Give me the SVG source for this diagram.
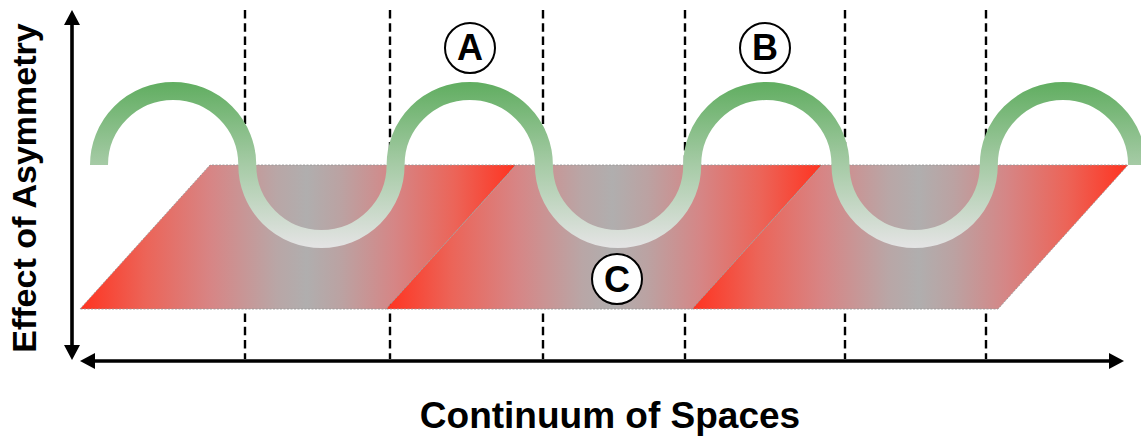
<svg xmlns="http://www.w3.org/2000/svg" width="1141" height="437" viewBox="0 0 1141 437">
  <style>
    .grid { stroke: #000; stroke-width: 2.4; stroke-dasharray: 8.5 4.7; fill: none; }
    .plane { fill: url(#planeGrad); stroke: #999; stroke-width: 0.9; stroke-dasharray: 2 1.5; }
    .axis { stroke: #000; stroke-width: 3.6; fill: none; marker-start: url(#arrow); marker-end: url(#arrow); }
    .badge circle { fill: #fff; stroke: #000; stroke-width: 2; }
    .badge text { font-family: "Liberation Sans", Arial, sans-serif; font-weight: bold; font-size: 36px; text-anchor: middle; fill: #000; }
    .title { font-family: "Liberation Sans", Arial, sans-serif; font-weight: bold; fill: #000; text-anchor: middle; }
  </style>
  <defs>
    <linearGradient id="planeGrad" x1="0" y1="0" x2="1" y2="0">
      <stop offset="0" stop-color="#ff3320"/>
      <stop offset="0.15" stop-color="#ec6458"/>
      <stop offset="0.3" stop-color="#d78585"/>
      <stop offset="0.45" stop-color="#b9a6a6"/>
      <stop offset="0.52" stop-color="#b0aeae"/>
      <stop offset="0.6" stop-color="#bba2a2"/>
      <stop offset="0.72" stop-color="#d58686"/>
      <stop offset="0.86" stop-color="#ec6458"/>
      <stop offset="1" stop-color="#ff3320"/>
    </linearGradient>
    <linearGradient id="waveGrad" gradientUnits="userSpaceOnUse" x1="0" y1="84" x2="0" y2="246">
      <stop offset="0" stop-color="#62ae62"/>
      <stop offset="0.5" stop-color="#a6cba6"/>
      <stop offset="1" stop-color="#e3e3e3"/>
    </linearGradient>
    <marker id="arrow" viewBox="0 0 15 16" refX="9" refY="8" markerWidth="15" markerHeight="16" markerUnits="userSpaceOnUse" orient="auto-start-reverse">
      <path d="M0,0 L15,8 L0,16 z" fill="#000"/>
    </marker>
  </defs>

  <g id="gridlines">
    <line class="grid" x1="245" y1="10" x2="245" y2="359"/>
    <line class="grid" x1="390" y1="10" x2="390" y2="359"/>
    <line class="grid" x1="543" y1="10" x2="543" y2="359"/>
    <line class="grid" x1="685" y1="10" x2="685" y2="359"/>
    <line class="grid" x1="845" y1="10" x2="845" y2="359"/>
    <line class="grid" x1="986" y1="10" x2="986" y2="359"/>
  </g>

  <g id="plane">
    <polygon class="plane" points="80,309 210,165 516,165 386,309"/>
    <polygon class="plane" points="386,309 516,165 822,165 692,309"/>
    <polygon class="plane" points="692,309 822,165 1128,165 998,309"/>
  </g>

  <g id="wave">
    <path d="M99,165 A74.15,74 0 0 1 247.3,165 A74.15,74 0 0 0 395.6,165 A74.15,74 0 0 1 543.9,165 A74.15,74 0 0 0 692.2,165 A74.15,74 0 0 1 840.5,165 A74.15,74 0 0 0 988.8,165 A74.15,74 0 0 1 1137.1,165" fill="none" stroke="url(#waveGrad)" stroke-width="18"/>
  </g>

  <g id="connectors">
    <line class="axis" x1="72" y1="354" x2="72" y2="16"/>
    <line class="axis" x1="86" y1="361" x2="1118" y2="361"/>
  </g>

  <g id="label-A" class="badge">
    <circle cx="470" cy="48" r="25"/>
    <text x="470" y="60">A</text>
  </g>
  <g id="label-B" class="badge">
    <circle cx="765" cy="48" r="25"/>
    <text x="765" y="60">B</text>
  </g>
  <g id="label-C" class="badge">
    <circle cx="617" cy="279" r="25"/>
    <text x="617" y="292">C</text>
  </g>

  <g id="axis-titles">
    <text class="title" transform="translate(36,188) rotate(-90)" x="0" y="0" font-size="34">Effect of Asymmetry</text>
    <text class="title" x="610" y="428" font-size="37">Continuum of Spaces</text>
  </g>
</svg>
